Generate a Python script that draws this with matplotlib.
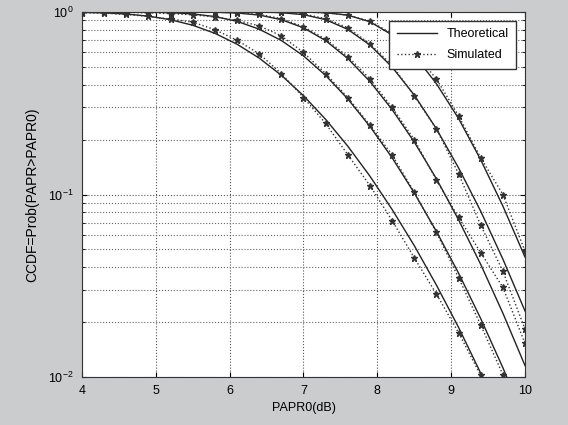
import matplotlib
matplotlib.use("Agg")
import matplotlib.pyplot as plt
from matplotlib.ticker import LogLocator, NullFormatter

# PAPR0 grid (dB)
papr0_db = [4.0, 4.3, 4.6, 4.9, 5.2, 5.5, 5.8, 6.1, 6.4, 6.7, 7.0,
            7.3, 7.6, 7.9, 8.2, 8.5, 8.8, 9.1, 9.4, 9.7, 10.0]

# theoretical CCDF curves
theory_64 = [0.9955, 0.989, 0.975, 0.949, 0.907, 0.846, 0.764, 0.666, 0.559, 0.450, 0.348,
             0.258, 0.184, 0.126, 0.0828, 0.0525, 0.0319, 0.0187, 0.0105, 0.00564, 0.0029]
theory_128 = [1.0, 0.9999, 0.9994, 0.9974, 0.9914, 0.976, 0.944, 0.889, 0.805, 0.698, 0.575,
              0.449, 0.334, 0.236, 0.159, 0.102, 0.0628, 0.0371, 0.0209, 0.01125, 0.00579]
theory_256 = [1.0, 1.0, 1.0, 1.0, 0.9999, 0.9994, 0.9969, 0.9876, 0.962, 0.908, 0.819,
              0.697, 0.556, 0.416, 0.292, 0.194, 0.122, 0.0727, 0.0414, 0.0224, 0.01155]
theory_512 = [1.0, 1.0, 1.0, 1.0, 1.0, 1.0, 1.0, 0.9998, 0.9986, 0.9916, 0.967,
              0.908, 0.803, 0.659, 0.499, 0.351, 0.229, 0.140, 0.0810, 0.0443, 0.0230]
theory_1024 = [1.0, 1.0, 1.0, 1.0, 1.0, 1.0, 1.0, 1.0, 1.0, 0.9999, 0.9989,
               0.9915, 0.961, 0.884, 0.749, 0.579, 0.405, 0.261, 0.155, 0.0865, 0.0454]

# simulated CCDF curves
sim_64 = [0.99, 0.985, 0.97, 0.945, 0.915, 0.88, 0.80, 0.70, 0.59, 0.46, 0.34,
          0.245, 0.165, 0.112, 0.072, 0.045, 0.0285, 0.0175, 0.0102, 0.0055, 0.0028]
sim_128 = [0.999, 0.998, 0.995, 0.99, 0.98, 0.965, 0.94, 0.90, 0.84, 0.74, 0.60,
           0.46, 0.34, 0.24, 0.165, 0.103, 0.062, 0.035, 0.0193, 0.0103, 0.0052]
sim_256 = [1.0, 1.0, 1.0, 0.999, 0.999, 0.998, 0.997, 0.99, 0.97, 0.92, 0.83,
           0.71, 0.57, 0.43, 0.30, 0.20, 0.12, 0.075, 0.048, 0.031, 0.0153]
sim_512 = [1.0, 1.0, 1.0, 1.0, 1.0, 1.0, 1.0, 1.0, 0.999, 0.995, 0.975,
           0.92, 0.82, 0.67, 0.51, 0.347, 0.229, 0.13, 0.068, 0.038, 0.0183]
sim_1024 = [1.0, 1.0, 1.0, 1.0, 1.0, 1.0, 1.0, 1.0, 1.0, 1.0, 0.999,
            0.99, 0.96, 0.89, 0.76, 0.60, 0.43, 0.27, 0.159, 0.10, 0.049]

theory_curves = [theory_64, theory_128, theory_256, theory_512, theory_1024]
sim_curves = [sim_64, sim_128, sim_256, sim_512, sim_1024]

plt.rcParams["font.family"] = ["Liberation Sans", "DejaVu Sans"]
plt.rcParams["font.size"] = 9

fig = plt.figure(figsize=(5.68, 4.25), dpi=100, facecolor="#cbcccd")
ax = fig.add_axes([82 / 568, 1 - 377 / 425, (525 - 82) / 568, (377 - 12) / 425])
ax.set_facecolor("white")

for i, (th, sm) in enumerate(zip(theory_curves, sim_curves)):
    ax.semilogy(papr0_db, th, "-", color="#222222", lw=1.0,
                label="Theoretical" if i == 0 else None)
    ax.semilogy(papr0_db, sm, ":", color="#333333", lw=1.0, marker="*",
                markersize=5, label="Simulated" if i == 0 else None)

ax.set_xlim(4, 10)
ax.set_ylim(1e-2, 1)
ax.set_xticks([4, 5, 6, 7, 8, 9, 10])
ax.yaxis.set_major_locator(LogLocator(base=10))
ax.yaxis.set_minor_locator(LogLocator(base=10, subs=range(2, 10)))
ax.yaxis.set_minor_formatter(NullFormatter())

ax.grid(True, which="major", linestyle=":", color="#555555", lw=0.8)
ax.grid(True, which="minor", axis="y", linestyle=":", color="#666666", lw=0.8)
ax.tick_params(which="both", direction="in", top=True, right=True, pad=6)
for s in ax.spines.values():
    s.set_color("#333333")

ax.set_xlabel("PAPR0(dB)", labelpad=3)
ax.set_ylabel("CCDF=Prob(PAPR>PAPR0)", fontsize=10, labelpad=6)

ax.legend(loc="upper right", fancybox=False, edgecolor="#333333", framealpha=1,
          handlelength=3.2, borderaxespad=0.7, borderpad=0.6, labelspacing=0.7,
          fontsize=9)

fig.savefig("out.png", dpi=100, facecolor=fig.get_facecolor())
